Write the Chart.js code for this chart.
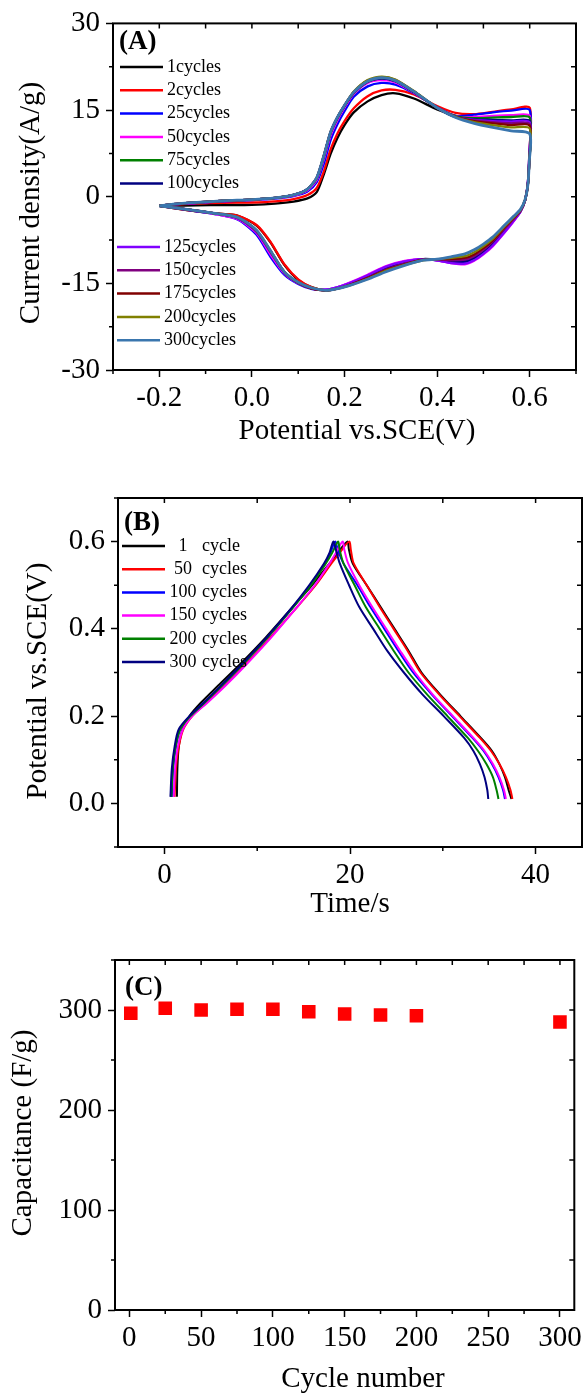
<!DOCTYPE html>
<html>
<head>
<meta charset="utf-8">
<title>CV / GCD / cycling</title>
<script src="https://cdn.jsdelivr.net/npm/chart.js@4.4.1/dist/chart.umd.min.js"></script>
<style>
    html, body { margin: 0; padding: 0; background: #fff; }
    .panel { position: absolute; left: 0; width: 586px; }
    #panelA { top: 0; height: 455px; }
    #panelB { top: 455px; height: 460px; }
    #panelC { top: 915px; height: 483px; }
</style>
</head>
<body>
<div class="panel" id="panelA"><canvas id="chartA" width="586" height="455"></canvas></div>
<div class="panel" id="panelB"><canvas id="chartB" width="586" height="460"></canvas></div>
<div class="panel" id="panelC"><canvas id="chartC" width="586" height="483"></canvas></div>
<script>
// ---- (A) cyclic voltammetry: potential grids for the two sweeps (V)
const cvUpV = [-0.2, -0.17, -0.12, -0.06, 0.0, 0.05, 0.09, 0.12, 0.14, 0.155, 0.17, 0.185, 0.2, 0.22, 0.25, 0.28, 0.31, 0.35, 0.4, 0.44, 0.48, 0.52, 0.56, 0.6];
const cvDownV = [0.599, 0.596, 0.59, 0.58, 0.565, 0.545, 0.52, 0.5, 0.48, 0.46, 0.43, 0.4, 0.37, 0.33, 0.29, 0.25, 0.21, 0.18, 0.16, 0.13, 0.1, 0.07, 0.04, 0.01, -0.03, -0.08, -0.14, -0.2];

// current density (A/g), anodic sweep
const cv1Up   = [-1.6, -1.55, -1.5, -1.45, -1.4, -1.2, -0.85, -0.3, 0.8, 3.8, 7.4, 10.2, 12.4, 14.6, 16.5, 17.6, 17.9, 17.0, 15.1, 14.0, 13.4, 13.0, 12.7, 12.5];
const cv2Up   = [-1.6, -1.4, -1.2, -1.05, -1.0, -0.8, -0.4, 0.3, 1.5, 4.3, 8.2, 11.0, 13.1, 15.3, 17.4, 18.4, 18.5, 17.7, 15.7, 14.5, 14.3, 14.7, 15.1, 15.4];
const cv25Up  = [-1.6, -1.35, -1.1, -0.8, -0.6, -0.35, 0.1, 0.9, 2.5, 5.6, 9.8, 12.6, 14.8, 17.3, 19.1, 19.7, 19.4, 17.9, 15.5, 14.0, 14.2, 14.6, 14.9, 15.0];
const cv50Up  = [-1.6, -1.3, -1.05, -0.75, -0.55, -0.25, 0.2, 1.1, 2.9, 6.4, 10.6, 13.3, 15.4, 17.8, 19.7, 20.2, 19.8, 18.0, 15.4, 13.9, 13.8, 14.0, 14.1, 14.0];
const cv75Up  = [-1.6, -1.3, -1.0, -0.7, -0.5, -0.2, 0.3, 1.3, 3.2, 6.8, 11.0, 13.6, 15.7, 17.9, 19.9, 20.5, 20.0, 18.1, 15.4, 13.9, 13.6, 13.7, 13.8, 13.7];
const cv100Up = [-1.6, -1.3, -1.0, -0.7, -0.5, -0.2, 0.3, 1.3, 3.2, 6.9, 11.1, 13.7, 15.7, 18.0, 19.9, 20.5, 20.0, 18.1, 15.4, 13.8, 13.4, 13.3, 13.2, 13.1];
const cv125Up = [-1.6, -1.3, -1.0, -0.7, -0.5, -0.2, 0.3, 1.3, 3.3, 7.0, 11.1, 13.7, 15.8, 18.0, 20.0, 20.6, 20.1, 18.2, 15.4, 13.8, 13.3, 13.1, 13.0, 12.9];
const cv150Up = [-1.6, -1.3, -1.0, -0.7, -0.5, -0.2, 0.3, 1.3, 3.3, 7.0, 11.2, 13.8, 15.8, 18.1, 20.1, 20.7, 20.2, 18.2, 15.4, 13.8, 13.2, 12.9, 12.7, 12.6];
const cv175Up = [-1.6, -1.3, -1.0, -0.7, -0.5, -0.2, 0.3, 1.3, 3.3, 7.0, 11.2, 13.8, 15.8, 18.1, 20.1, 20.7, 20.2, 18.2, 15.4, 13.8, 13.1, 12.7, 12.4, 12.3];
const cv200Up = [-1.6, -1.3, -1.0, -0.7, -0.5, -0.2, 0.3, 1.3, 3.3, 7.0, 11.2, 13.8, 15.8, 18.2, 20.2, 20.8, 20.3, 18.3, 15.4, 13.8, 12.9, 12.4, 12.0, 11.8];
const cv300Up = [-1.6, -1.3, -1.0, -0.7, -0.5, -0.2, 0.3, 1.3, 3.3, 7.0, 11.2, 13.8, 15.8, 18.1, 20.0, 20.6, 20.1, 18.2, 15.4, 13.7, 12.7, 12.0, 11.4, 10.9];

// current density (A/g), cathodic sweep
const cv1Down   = [6.2, 2.1, -0.6, -2.5, -4.0, -5.8, -8.1, -9.5, -10.6, -11.2, -11.2, -10.9, -10.9, -11.5, -12.5, -13.9, -15.2, -15.9, -16.2, -15.7, -14.4, -11.8, -7.9, -5.0, -3.3, -2.9, -2.3, -1.6];
const cv2Down   = [7.3, 2.4, -0.6, -2.5, -4.1, -6.0, -8.3, -9.7, -10.8, -11.4, -11.3, -11.0, -10.8, -11.3, -12.3, -13.8, -15.1, -15.9, -16.2, -15.7, -14.3, -11.7, -7.8, -4.9, -3.3, -2.9, -2.3, -1.6];
const cv25Down  = [7.2, 2.4, -0.6, -2.5, -4.2, -6.1, -8.4, -9.8, -10.9, -11.5, -11.4, -11.0, -10.8, -11.2, -12.2, -13.7, -15.0, -15.8, -16.1, -16.0, -15.1, -13.5, -10.4, -6.6, -4.0, -3.0, -2.3, -1.6];
const cv50Down  = [7.0, 2.4, -0.6, -2.6, -4.3, -6.3, -8.6, -10.0, -11.1, -11.7, -11.5, -11.0, -10.8, -11.1, -12.0, -13.5, -14.9, -15.8, -16.1, -15.9, -15.0, -13.3, -10.0, -6.3, -3.9, -3.0, -2.2, -1.6];
const cv75Down  = [6.4, 2.1, -0.6, -2.5, -4.0, -5.8, -8.0, -9.4, -10.5, -11.0, -11.0, -10.9, -10.9, -11.5, -12.5, -13.9, -15.2, -15.9, -16.2, -15.9, -14.9, -13.1, -9.5, -6.0, -3.7, -2.9, -2.2, -1.6];
const cv100Down = [6.3, 2.1, -0.6, -2.5, -4.0, -5.9, -8.2, -9.6, -10.6, -11.2, -11.2, -10.9, -10.8, -11.4, -12.4, -13.8, -15.2, -15.9, -16.2, -15.9, -14.9, -13.1, -9.5, -6.0, -3.7, -2.9, -2.2, -1.6];
const cv125Down = [6.5, 2.2, -0.6, -2.6, -4.2, -6.2, -8.5, -9.9, -11.0, -11.6, -11.5, -11.0, -10.8, -11.2, -12.1, -13.6, -15.0, -15.8, -16.1, -15.9, -14.9, -13.1, -9.6, -6.0, -3.7, -2.9, -2.2, -1.6];
const cv150Down = [6.2, 2.1, -0.6, -2.4, -3.9, -5.6, -7.8, -9.2, -10.3, -10.9, -11.0, -10.9, -10.9, -11.6, -12.6, -14.0, -15.3, -16.0, -16.2, -15.9, -14.9, -13.0, -9.4, -5.9, -3.6, -2.9, -2.2, -1.6];
const cv175Down = [6.1, 2.0, -0.6, -2.4, -3.7, -5.4, -7.6, -8.9, -10.0, -10.6, -10.8, -10.8, -10.9, -11.7, -12.7, -14.1, -15.3, -16.0, -16.2, -15.9, -14.9, -13.0, -9.4, -5.9, -3.6, -2.9, -2.2, -1.6];
const cv200Down = [6.0, 2.0, -0.5, -2.3, -3.6, -5.2, -7.3, -8.6, -9.6, -10.3, -10.6, -10.8, -11.0, -11.8, -12.8, -14.2, -15.4, -16.0, -16.2, -15.8, -14.8, -13.0, -9.3, -5.8, -3.6, -2.9, -2.2, -1.6];
const cv300Down = [6.0, 2.0, -0.5, -2.2, -3.4, -5.0, -7.0, -8.2, -9.2, -9.9, -10.4, -10.8, -11.0, -11.9, -13.0, -14.3, -15.4, -16.0, -16.2, -15.8, -14.8, -13.0, -9.3, -5.8, -3.6, -2.9, -2.2, -1.6];

const cvLabels = ['1cycles', '2cycles', '25cycles', '50cycles', '75cycles', '100cycles', '125cycles', '150cycles', '175cycles', '200cycles', '300cycles'];
const cvColors = ['#000000', '#ff0000', '#0000ff', '#ff00ff', '#008000', '#000080', '#8000ff', '#800080', '#800000', '#808000', '#3a76ae'];
const cvXTicks = [-0.2, 0.0, 0.2, 0.4, 0.6];
const cvYTicks = [-30, -15, 0, 15, 30];

// ---- (B) charge / discharge: potential grids (V) and times (s)
const gcdUpV = [0.015, 0.08, 0.13, 0.17, 0.2, 0.23, 0.27, 0.32, 0.38, 0.44, 0.5, 0.55, 0.575, 0.6];
const gcdDownV = [0.58, 0.55, 0.5, 0.45, 0.4, 0.35, 0.3, 0.25, 0.2, 0.15, 0.12, 0.09, 0.06, 0.03, 0.01];

const gcd1Up     = [1.35, 1.4, 1.55, 1.95, 2.7, 3.9, 5.8, 8.2, 10.9, 13.4, 15.9, 17.8, 18.7, 19.7];
const gcd50Up    = [1.1, 1.25, 1.55, 2.05, 3.0, 4.5, 6.5, 8.8, 11.4, 13.9, 16.3, 18.0, 18.9, 19.9];
const gcd100Up   = [0.8, 0.95, 1.25, 1.7, 2.75, 4.25, 6.2, 8.5, 11.1, 13.5, 15.7, 17.3, 17.9, 18.4];
const gcd150Up   = [1.0, 1.15, 1.45, 2.0, 3.0, 4.6, 6.6, 8.9, 11.5, 13.9, 16.2, 17.8, 18.5, 19.2];
const gcd200Up   = [0.75, 0.9, 1.2, 1.7, 2.8, 4.3, 6.2, 8.5, 11.1, 13.5, 15.8, 17.4, 18.1, 18.7];
const gcd300Up   = [0.65, 0.8, 1.1, 1.55, 2.7, 4.2, 6.1, 8.4, 11.0, 13.4, 15.6, 17.2, 17.8, 18.2];

const gcd1Down   = [19.9, 20.3, 21.8, 23.3, 24.8, 26.3, 27.7, 29.7, 31.9, 34.1, 35.3, 36.1, 36.7, 37.1, 37.4];
const gcd50Down  = [20.1, 20.4, 21.8, 23.2, 24.7, 26.2, 27.6, 29.6, 31.8, 34.0, 35.2, 36.1, 36.8, 37.3, 37.5];
const gcd100Down = [18.7, 19.3, 20.8, 22.2, 23.7, 25.2, 26.8, 28.8, 31.0, 33.2, 34.4, 35.3, 36.0, 36.5, 36.7];
const gcd150Down = [19.4, 19.8, 21.0, 22.4, 23.9, 25.4, 27.0, 28.9, 31.1, 33.3, 34.5, 35.4, 36.1, 36.6, 36.8];
const gcd200Down = [18.9, 19.3, 20.5, 21.7, 23.2, 24.7, 26.3, 28.3, 30.5, 32.7, 33.8, 34.7, 35.4, 35.8, 36.0];
const gcd300Down = [18.5, 18.9, 19.9, 21.0, 22.5, 24.0, 25.8, 27.8, 30.1, 32.3, 33.3, 34.0, 34.5, 34.8, 34.9];

const gcdLabels = ['1 cycle', '50 cycles', '100 cycles', '150 cycles', '200 cycles', '300 cycles'];
const gcdColors = ['#000000', '#ff0000', '#0000ff', '#ff00ff', '#008000', '#000080'];
const gcdXTicks = [0, 20, 40];
const gcdYTicks = [0.0, 0.2, 0.4, 0.6];

// ---- (C) capacitance retention
const capCycles = [1, 25, 50, 75, 100, 125, 150, 175, 200, 300];
const capValues = [296.7, 301.7, 300, 300.7, 300.7, 298.3, 296, 295, 294.3, 288];
const capXTicks = [0, 50, 100, 150, 200, 250, 300];
const capYTicks = [0, 100, 200, 300];

const serif = '"Liberation Serif", "Times New Roman", serif';
Chart.defaults.font.family = serif;
Chart.defaults.color = '#000';
Chart.defaults.animation = false;

// minor ticks, mirrored inner ticks on top/right, and the box
const frameTicks = {
    id: 'frameTicks',
    afterDraw(chart, args, opts) {
        const { ctx, chartArea: a } = chart;
        const xs = chart.scales.x;
        const ys = chart.scales.y;
        ctx.save();
        ctx.strokeStyle = '#000';
        ctx.lineWidth = 1.5;
        ctx.beginPath();
        opts.xMinor.forEach(v => {
            const px = xs.getPixelForValue(v);
            ctx.moveTo(px, a.bottom);
            ctx.lineTo(px, a.bottom + 4);
        });
        opts.yMinor.forEach(v => {
            const py = ys.getPixelForValue(v);
            ctx.moveTo(a.left, py);
            ctx.lineTo(a.left - 4, py);
        });
        opts.xMajor.concat(opts.xMinor).forEach(v => {
            if (v <= xs.min || v >= xs.max) return;
            const px = xs.getPixelForValue(v);
            ctx.moveTo(px, a.top);
            ctx.lineTo(px, a.top + 5);
        });
        opts.yMajor.concat(opts.yMinor).forEach(v => {
            if (v <= ys.min || v >= ys.max) return;
            const py = ys.getPixelForValue(v);
            ctx.moveTo(a.right, py);
            ctx.lineTo(a.right - 5, py);
        });
        ctx.stroke();
        ctx.lineWidth = 2;
        ctx.strokeRect(a.left, a.top, a.right - a.left, a.bottom - a.top);
        ctx.restore();
    }
};

// axis titles, panel tag and the hand placed legend
const decor = {
    id: 'decor',
    afterDraw(chart, args, opts) {
        const ctx = chart.ctx;
        ctx.save();
        ctx.fillStyle = '#000';
        ctx.textBaseline = 'middle';

        ctx.font = '29px ' + serif;
        ctx.textAlign = 'center';
        ctx.fillText(opts.xTitle.text, opts.xTitle.x, opts.xTitle.y);
        ctx.save();
        ctx.translate(opts.yTitle.x, opts.yTitle.y);
        ctx.rotate(-Math.PI / 2);
        ctx.fillText(opts.yTitle.text, 0, 0);
        ctx.restore();

        ctx.font = 'bold 27px ' + serif;
        ctx.textAlign = 'left';
        ctx.fillText(opts.tag.text, opts.tag.x, opts.tag.y);

        ctx.font = '18px ' + serif;
        (opts.legend || []).forEach(group => {
            for (let i = group.from; i < group.to; i++) {
                const ds = chart.data.datasets[i];
                const y = group.y + (i - group.from) * group.step;
                ctx.strokeStyle = ds.borderColor;
                ctx.lineWidth = 2.5;
                ctx.beginPath();
                ctx.moveTo(group.lineX, y);
                ctx.lineTo(group.lineX + 43, y);
                ctx.stroke();
                if (group.numX) {
                    const parts = ds.label.split(' ');
                    ctx.textAlign = 'center';
                    ctx.fillText(parts[0], group.numX, y);
                    ctx.textAlign = 'left';
                    ctx.fillText(parts[1], group.textX, y);
                } else {
                    ctx.textAlign = 'left';
                    ctx.fillText(ds.label, group.textX, y);
                }
            }
        });
        ctx.restore();
    }
};

function majorGrid() {
    return { drawOnChartArea: false, drawTicks: true, tickLength: 7, tickWidth: 1.5, color: '#000' };
}

function axis(min, max, tickValues, fmt, size, padding) {
    const isX = size.height !== undefined;
    return {
        type: 'linear',
        min: min,
        max: max,
        afterBuildTicks: s => { s.ticks = tickValues.map(v => ({ value: v })); },
        afterFit: s => {
            if (isX) s.height = size.height;
            else s.width = size.width;
        },
        ticks: {
            font: { size: 29 },
            color: '#000',
            padding: padding,
            maxRotation: 0,
            autoSkip: false,
            callback: fmt
        },
        grid: majorGrid(),
        border: { display: false }
    };
}

function pairs(xArr, yArr) {
    return xArr.map((v, i) => ({ x: v, y: yArr[i] }));
}

// ---- panel A
const cvUp = [cv1Up, cv2Up, cv25Up, cv50Up, cv75Up, cv100Up, cv125Up, cv150Up, cv175Up, cv200Up, cv300Up];
const cvDown = [cv1Down, cv2Down, cv25Down, cv50Down, cv75Down, cv100Down, cv125Down, cv150Down, cv175Down, cv200Down, cv300Down];

new Chart(document.getElementById('chartA'), {
    type: 'scatter',
    data: {
        datasets: cvLabels.map((label, i) => ({
            label: label,
            data: pairs(cvUpV, cvUp[i]).concat(pairs(cvDownV, cvDown[i])),
            borderColor: cvColors[i],
            backgroundColor: cvColors[i],
            borderWidth: i === cvLabels.length - 1 ? 2.8 : 2.3,
            pointRadius: 0,
            showLine: true,
            tension: 0.25,
            order: cvLabels.length - i
        }))
    },
    options: {
        responsive: false,
        events: [],
        layout: { padding: { top: 20, right: 10, left: 0, bottom: 0 } },
        scales: {
            x: axis(-0.3, 0.7, cvXTicks, v => v.toFixed(1), { height: 85 }, 4),
            y: axis(-30, 30, cvYTicks, v => String(v), { width: 113 }, 6)
        },
        plugins: {
            legend: { display: false },
            tooltip: { enabled: false },
            frameTicks: {
                xMajor: cvXTicks, xMinor: [-0.3, -0.1, 0.1, 0.3, 0.5, 0.7],
                yMajor: cvYTicks, yMinor: [-22.5, -7.5, 7.5, 22.5]
            },
            decor: {
                xTitle: { text: 'Potential vs.SCE(V)', x: 357, y: 431 },
                yTitle: { text: 'Current density(A/g)', x: 31, y: 203 },
                tag: { text: '(A)', x: 119, y: 42 },
                legend: [
                    { from: 0, to: 6, lineX: 120, textX: 167, y: 67, step: 23.3 },
                    { from: 6, to: 11, lineX: 117, textX: 164, y: 247, step: 23.3 }
                ]
            }
        }
    },
    plugins: [frameTicks, decor]
});

// ---- panel B
const gcdUp = [gcd1Up, gcd50Up, gcd100Up, gcd150Up, gcd200Up, gcd300Up];
const gcdDown = [gcd1Down, gcd50Down, gcd100Down, gcd150Down, gcd200Down, gcd300Down];

new Chart(document.getElementById('chartB'), {
    type: 'scatter',
    data: {
        datasets: gcdLabels.map((label, i) => ({
            label: label,
            data: pairs(gcdUp[i], gcdUpV).concat(pairs(gcdDown[i], gcdDownV)),
            borderColor: gcdColors[i],
            backgroundColor: gcdColors[i],
            borderWidth: 2,
            pointRadius: 0,
            showLine: true,
            tension: 0.3,
            order: gcdLabels.length - i
        }))
    },
    options: {
        responsive: false,
        events: [],
        layout: { padding: { top: 43, right: 4, left: 0, bottom: 0 } },
        scales: {
            x: axis(-5, 45, gcdXTicks, v => String(v), { height: 68 }, 4),
            y: axis(-0.1, 0.7, gcdYTicks, v => v.toFixed(1), { width: 118 }, 6)
        },
        plugins: {
            legend: { display: false },
            tooltip: { enabled: false },
            frameTicks: {
                xMajor: gcdXTicks, xMinor: [10, 30],
                yMajor: gcdYTicks, yMinor: [-0.1, 0.1, 0.3, 0.5, 0.7]
            },
            decor: {
                xTitle: { text: 'Time/s', x: 350, y: 449 },
                yTitle: { text: 'Potential vs.SCE(V)', x: 38, y: 226 },
                tag: { text: '(B)', x: 124, y: 68 },
                legend: [
                    { from: 0, to: 6, lineX: 122, numX: 183, textX: 202, y: 91, step: 23.2 }
                ]
            }
        }
    },
    plugins: [frameTicks, decor]
});

// ---- panel C
new Chart(document.getElementById('chartC'), {
    type: 'scatter',
    data: {
        datasets: [{
            label: 'Capacitance',
            data: pairs(capCycles, capValues),
            pointStyle: 'rect',
            pointRadius: 9.6,
            backgroundColor: '#ff0000',
            borderColor: '#ff0000',
            borderWidth: 0,
            showLine: false
        }]
    },
    options: {
        responsive: false,
        events: [],
        layout: { padding: { top: 45, right: 7, left: 0, bottom: 0 } },
        scales: {
            x: axis(-10, 310, capXTicks, v => String(v), { height: 88 }, 4),
            y: axis(0, 350, capYTicks, v => String(v), { width: 115 }, 6)
        },
        plugins: {
            legend: { display: false },
            tooltip: { enabled: false },
            frameTicks: {
                xMajor: capXTicks, xMinor: [25, 75, 125, 175, 225, 275],
                yMajor: capYTicks, yMinor: [50, 150, 250, 350]
            },
            decor: {
                xTitle: { text: 'Cycle number', x: 363, y: 464 },
                yTitle: { text: 'Capacitance (F/g)', x: 23, y: 218 },
                tag: { text: '(C)', x: 125, y: 73 }
            }
        }
    },
    plugins: [frameTicks, decor]
});
</script>
</body>
</html>
